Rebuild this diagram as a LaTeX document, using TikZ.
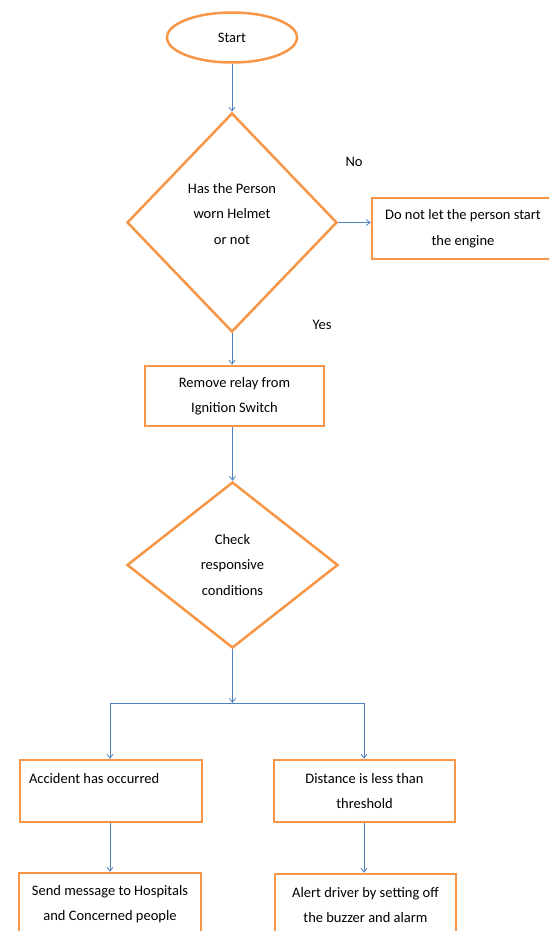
\documentclass[tikz,border=0pt]{standalone}
\usepackage{fontspec}
\setmainfont{Carlito}
\usetikzlibrary{shapes.geometric,arrows.meta}
\definecolor{orng}{HTML}{F79646}
\definecolor{blu}{HTML}{4F81BD}
\begin{document}
\begin{tikzpicture}[x=1pt,y=-1pt,
  every node/.style={font=\fontsize{14.5}{25.5}\selectfont},
  boxst/.style={draw=orng,line width=2.5pt,rectangle,minimum width=180pt,minimum height=60pt,align=center,inner sep=0pt},
  decst/.style={draw=orng,line width=2.5pt,diamond,inner sep=0pt,align=center},
  conn/.style={draw=blu,line width=0.8pt,-{Straight Barb[length=4pt,width=6pt]}},
  plain/.style={draw=blu,line width=0.8pt},
  lbl/.style={inner sep=0pt}]
\useasboundingbox (0,0) rectangle (549,931);
\clip (0,0) rectangle (549,931);
\node[draw=orng,line width=2.5pt,ellipse,minimum width=130pt,minimum height=50pt,inner sep=0pt] (start) at (232,37.5) {Start};
\node[decst,minimum width=210pt,minimum height=219pt,aspect=0.96,
  label={[name=d1text,align=center,yshift=8.5pt]center:Has the Person\\ worn Helmet\\ or not}] (d1) at (232,222.5) {};
\node[boxst,minimum width=182pt,minimum height=61pt] (no) at (463,228.5) {Do not let the person start\\the engine};
\node[lbl] (nolbl) at (354,162) {No};
\node[lbl] (yeslbl) at (322,325) {Yes};
\node[boxst,minimum width=179pt,minimum height=60pt] (relay) at (234.5,396) {Remove relay from\\Ignition Switch};
\node[decst,minimum width=211pt,minimum height=166pt,aspect=1.27] (d2) at (232.5,565) {Check\\responsive\\conditions};
\node[boxst,minimum width=182pt,minimum height=62pt,text width=164pt,align=flush left] (acc) at (111,791) {Accident has occurred\\\mbox{}};
\node[boxst,minimum width=181pt,minimum height=62pt] (dist) at (364.5,791) {Distance is less than\\threshold};
\node[boxst,minimum width=182pt,minimum height=62pt] (send) at (110,904) {Send message to Hospitals\\and Concerned people};
\node[boxst,minimum width=181pt,minimum height=62pt] (alert) at (365.5,905) {Alert driver by setting off\\the buzzer and alarm};
\coordinate (j) at (232.5,703);
\coordinate (jl) at (110,703);
\coordinate (jr) at (364,703);
\draw[conn] (start) -- (d1);
\draw[conn] (d1.east) -- (d1.east -| no.west);
\draw[conn] (d1.south) -- (d1.south |- relay.north);
\draw[conn] (relay.south -| d2.north) -- (d2.north);
\draw[conn] (d2) -- (j);
\draw[plain] (jl) -- (jr);
\draw[conn] (jl) -- (jl |- acc.north);
\draw[conn] (jr) -- (jr |- dist.north);
\draw[conn] (acc.south -| jl) -- (jl |- send.north);
\draw[conn] (dist.south -| jr) -- (jr |- alert.north);
\end{tikzpicture}
\end{document}
